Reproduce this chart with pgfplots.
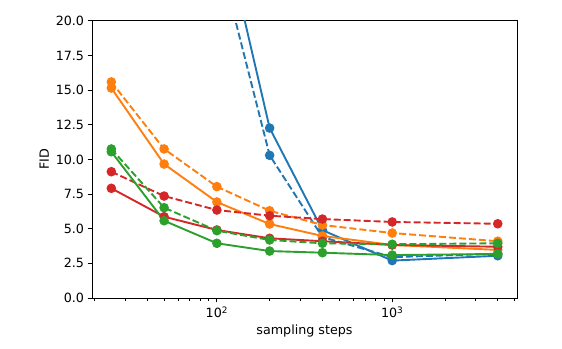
\documentclass[border=0pt]{standalone}
\usepackage{fontspec}
\setmainfont{DejaVu Sans}
\usepackage{pgfplots}
\pgfplotsset{compat=1.18}
\definecolor{tabblue}{HTML}{1F77B4}
\definecolor{taborange}{HTML}{FF7F0E}
\definecolor{tabgreen}{HTML}{2CA02C}
\definecolor{tabred}{HTML}{D62728}
\begin{document}
\begin{tikzpicture}[x=1pt,y=1pt]
\path[use as bounding box] (-92,-50) rectangle (470,298);
\begin{axis}[
  at={(0,0)}, anchor=south west,
  scale only axis, width=425pt, height=277pt,
  xmode=log, xmin=19.4, xmax=5150,
  ymin=0, ymax=20,
  xtick={100,1000}, xticklabels={10\textsuperscript{2},10\textsuperscript{3}},
  minor xtick={20,30,40,50,60,70,80,90,200,300,400,500,600,700,800,900,2000,3000,4000,5000},
  ytick={0,2.5,...,20},
  yticklabel style={/pgf/number format/.cd,fixed,fixed zerofill,precision=1,assume math mode=true},
  tick align=outside, xtick pos=bottom, ytick pos=left,
  major tick length=4.45pt, minor tick length=2.5pt,
  every tick/.style={black, line width=1pt},
  every minor tick/.style={black, line width=0.76pt},
  axis line style={line width=1pt},
  tick label style={font=\fontsize{12.7}{15}\selectfont},
  label style={font=\fontsize{12.7}{15}\selectfont},
  xticklabel style={yshift=-1pt},
  xlabel={sampling steps}, ylabel={FID},
  every axis plot/.append style={line width=1.9pt, mark=*, mark size=3.8pt},
  clip=true,
]
% blue
\addplot[tabblue, mark options={fill=tabblue, draw=tabblue}] coordinates {(25,150) (50,80) (100,28.7) (200,12.27) (400,4.9) (1000,2.7) (4000,3.05)};
\addplot[tabblue, dash pattern=on 7pt off 3pt, mark options={solid, fill=tabblue, draw=tabblue}] coordinates {(25,140) (50,75) (100,25.3) (200,10.3) (400,4.4) (1000,2.95) (4000,3.2)};
% orange
\addplot[taborange, mark options={fill=taborange, draw=taborange}] coordinates {(25,15.16) (50,9.67) (100,6.93) (200,5.34) (400,4.48) (1000,3.83) (4000,3.47)};
\addplot[taborange, dash pattern=on 7pt off 3pt, mark options={solid, fill=taborange, draw=taborange}] coordinates {(25,15.6) (50,10.76) (100,8.04) (200,6.3) (400,5.27) (1000,4.69) (4000,4.1)};
% red
\addplot[tabred, mark options={fill=tabred, draw=tabred}] coordinates {(25,7.92) (50,5.87) (100,4.91) (200,4.31) (400,4.1) (1000,3.83) (4000,3.7)};
\addplot[tabred, dash pattern=on 7pt off 3pt, mark options={solid, fill=tabred, draw=tabred}] coordinates {(25,9.12) (50,7.36) (100,6.35) (200,5.94) (400,5.7) (1000,5.49) (4000,5.36)};
% green
\addplot[tabgreen, mark options={fill=tabgreen, draw=tabgreen}] coordinates {(25,10.56) (50,5.58) (100,3.95) (200,3.39) (400,3.27) (1000,3.1) (4000,3.18)};
\addplot[tabgreen, dash pattern=on 7pt off 3pt, mark options={solid, fill=tabgreen, draw=tabgreen}] coordinates {(25,10.76) (50,6.52) (100,4.86) (200,4.19) (400,3.95) (1000,3.88) (4000,3.95)};
\end{axis}
\end{tikzpicture}
\end{document}
